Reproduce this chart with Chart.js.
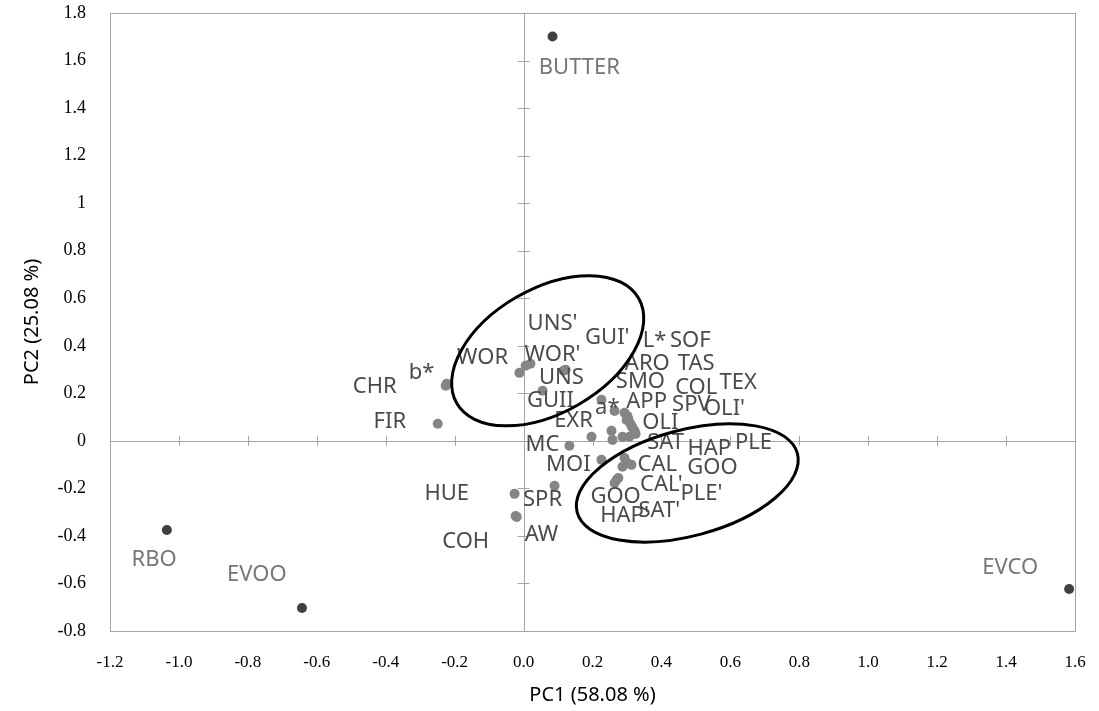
<!DOCTYPE html>
<html lang="en">
<head>
    <meta charset="UTF-8">
    <title>PCA biplot</title>
    <script src="https://cdn.jsdelivr.net/npm/chart.js"></script>
    <style>
        html, body {
            margin: 0;
            padding: 0;
            background: #fff;
        }

        .chart-container {
            width: 1099px;
            height: 711px;
        }
    </style>
</head>
<body>
    <div class="chart-container">
        <canvas id="pcaChart"></canvas>
    </div>

    <script>
        // oil / fat samples (dark dots)
        const sampleNames = ['BUTTER', 'RBO', 'EVOO', 'EVCO'];
        const sampleX = [0.084, -1.035, -0.643, 1.583];
        const sampleY = [1.701, -0.375, -0.703, -0.623];
        const sampleLabelX = [0.162, -1.072, -0.774, 1.412];
        const sampleLabelY = [1.571, -0.501, -0.564, -0.535];

        // sensory / instrumental attributes (grey dots)
        const attrNames = ['b*', 'CHR', 'FIR', 'WOR', "WOR'", 'UNS', "UNS'", "GUI'", 'GUII',
            'a*', 'L*', 'SOF', 'ARO', 'TAS', 'SMO', 'COL', 'TEX', 'APP', 'SPV', "OLI'", 'OLI',
            'EXR', 'MC', 'SAT', 'HAP', 'PLE', 'MOI', 'CAL', 'GOO', "CAL'", 'GOO', "PLE'", "HAP'", "SAT'",
            'SPR', 'HUE', 'AW', 'COH'];
        const attrX = [-0.223, -0.226, -0.249, -0.012, 0.006, 0.020, 0.122, 0.116, 0.055,
            0.226, 0.264, 0.301, 0.299, 0.310, 0.293, 0.316, 0.322, 0.304, 0.313, 0.325, 0.307,
            0.197, 0.133, 0.258, 0.287, 0.255, 0.226, 0.293, 0.313, 0.270, 0.264, 0.287, 0.275, 0.301,
            0.090, -0.026, -0.020, -0.023];
        const attrY = [0.240, 0.232, 0.072, 0.286, 0.316, 0.324, 0.299, 0.295, 0.211,
            0.173, 0.126, 0.105, 0.088, 0.072, 0.118, 0.055, 0.042, 0.093, 0.063, 0.029, 0.017,
            0.017, -0.021, 0.004, 0.017, 0.042, -0.080, -0.072, -0.101, -0.164, -0.177, -0.109, -0.156, -0.093,
            -0.189, -0.223, -0.320, -0.316];
        const attrLabelX = [-0.296, -0.432, -0.388, -0.119, 0.084, 0.110, 0.084, 0.243, 0.078,
            0.243, 0.380, 0.484, 0.359, 0.501, 0.339, 0.501, 0.623, 0.357, 0.487, 0.583, 0.397,
            0.145, 0.055, 0.412, 0.539, 0.667, 0.130, 0.388, 0.548, 0.400, 0.267, 0.516, 0.293, 0.394,
            0.055, -0.223, 0.052, -0.168];
        const attrLabelY = [0.286, 0.227, 0.080, 0.349, 0.362, 0.265, 0.493, 0.434, 0.168,
            0.139, 0.421, 0.421, 0.324, 0.324, 0.248, 0.223, 0.244, 0.164, 0.152, 0.135, 0.076,
            0.084, -0.017, -0.008, -0.034, -0.008, -0.101, -0.101, -0.114, -0.185, -0.236, -0.223, -0.316, -0.295,
            -0.248, -0.223, -0.396, -0.425];

        // grouping ellipses: centre in data units, half axes in px, tilt in degrees
        const ellipseCx = [0.070, 0.475];
        const ellipseCy = [0.379, -0.177];
        const ellipseA = [105, 114];
        const ellipseB = [62, 53];
        const ellipseTilt = [30, 15];

        const toPoints = (xs, ys) => xs.map((x, i) => ({ x: x, y: ys[i] }));

        // frame, zero axes with cross ticks
        const axesPlugin = {
            id: 'axesPlugin',
            beforeDatasetsDraw(chart) {
                const { ctx, chartArea, scales } = chart;
                const x0 = scales.x.getPixelForValue(0);
                const y0 = scales.y.getPixelForValue(0);
                ctx.save();
                ctx.strokeStyle = '#a6a6a6';
                ctx.lineWidth = 1;
                ctx.strokeRect(chartArea.left + 0.5, chartArea.top + 0.5,
                    chartArea.right - chartArea.left, chartArea.bottom - chartArea.top);

                ctx.beginPath();
                ctx.moveTo(Math.round(x0) + 0.5, chartArea.top);
                ctx.lineTo(Math.round(x0) + 0.5, chartArea.bottom);
                ctx.moveTo(chartArea.left, Math.round(y0) + 0.5);
                ctx.lineTo(chartArea.right, Math.round(y0) + 0.5);
                scales.x.ticks.forEach(t => {
                    const px = Math.round(scales.x.getPixelForValue(t.value)) + 0.5;
                    ctx.moveTo(px, y0 - 5);
                    ctx.lineTo(px, y0 + 5);
                });
                scales.y.ticks.forEach(t => {
                    const py = Math.round(scales.y.getPixelForValue(t.value)) + 0.5;
                    ctx.moveTo(x0 - 6, py);
                    ctx.lineTo(x0 + 6, py);
                });
                ctx.stroke();
                ctx.restore();
            }
        };

        // point labels and ellipses
        const labelPlugin = {
            id: 'labelPlugin',
            afterDatasetsDraw(chart) {
                const { ctx, scales } = chart;
                ctx.save();
                ctx.textAlign = 'center';
                ctx.textBaseline = 'middle';
                ctx.font = '22px "Noto Sans", sans-serif';

                ctx.fillStyle = '#767676';
                sampleNames.forEach((name, i) => {
                    ctx.fillText(name, scales.x.getPixelForValue(sampleLabelX[i]),
                        scales.y.getPixelForValue(sampleLabelY[i]));
                });

                ctx.fillStyle = '#4a4a4a';
                attrNames.forEach((name, i) => {
                    ctx.fillText(name, scales.x.getPixelForValue(attrLabelX[i]),
                        scales.y.getPixelForValue(attrLabelY[i]));
                });

                ctx.strokeStyle = '#000';
                ctx.lineWidth = 3;
                ellipseCx.forEach((cx, i) => {
                    ctx.beginPath();
                    ctx.ellipse(scales.x.getPixelForValue(cx), scales.y.getPixelForValue(ellipseCy[i]),
                        ellipseA[i], ellipseB[i], -ellipseTilt[i] * Math.PI / 180, 0, Math.PI * 2);
                    ctx.stroke();
                });
                ctx.restore();
            }
        };

        const ctx = document.getElementById('pcaChart').getContext('2d');
        new Chart(ctx, {
            type: 'scatter',
            data: {
                datasets: [{
                    label: 'Samples',
                    data: toPoints(sampleX, sampleY),
                    backgroundColor: '#404040',
                    borderWidth: 0,
                    pointRadius: 5
                }, {
                    label: 'Attributes',
                    data: toPoints(attrX, attrY),
                    backgroundColor: '#858585',
                    borderWidth: 0,
                    pointRadius: 5
                }]
            },
            options: {
                responsive: true,
                maintainAspectRatio: false,
                animation: false,
                layout: {
                    padding: { top: 13, right: 24, left: 0, bottom: 0 }
                },
                plugins: {
                    legend: { display: false },
                    tooltip: { enabled: false }
                },
                scales: {
                    x: {
                        min: -1.2,
                        max: 1.6,
                        grid: { display: false },
                        border: { display: false },
                        ticks: {
                            stepSize: 0.2,
                            padding: 13,
                            maxRotation: 0,
                            autoSkip: false,
                            color: '#000',
                            font: { family: '"Liberation Serif", serif', size: 17 },
                            callback: v => (Math.abs(v) < 1e-9 ? 0 : v).toFixed(1)
                        },
                        title: {
                            display: true,
                            text: 'PC1 (58.08 %)',
                            color: '#000',
                            font: { family: '"Noto Sans", sans-serif', size: 20 },
                            padding: { top: 0, bottom: 4 }
                        },
                        afterFit: scale => {
                            scale.height = 80;
                            scale.paddingLeft = 0;
                            scale.paddingRight = 0;
                        }
                    },
                    y: {
                        min: -0.8,
                        max: 1.8,
                        grid: { display: false },
                        border: { display: false },
                        ticks: {
                            stepSize: 0.2,
                            padding: 16,
                            color: '#000',
                            font: { family: '"Liberation Serif", serif', size: 18 },
                            callback: v => String(parseFloat(v.toFixed(1)) || 0)
                        },
                        title: {
                            display: true,
                            text: 'PC2 (25.08 %)',
                            color: '#000',
                            font: { family: '"Noto Sans", sans-serif', size: 20 },
                            padding: { top: 20, bottom: 0 }
                        },
                        afterFit: scale => {
                            scale.width = 110;
                            scale.paddingTop = 0;
                            scale.paddingBottom = 0;
                        }
                    }
                }
            },
            plugins: [axesPlugin, labelPlugin]
        });
    </script>
</body>
</html>
